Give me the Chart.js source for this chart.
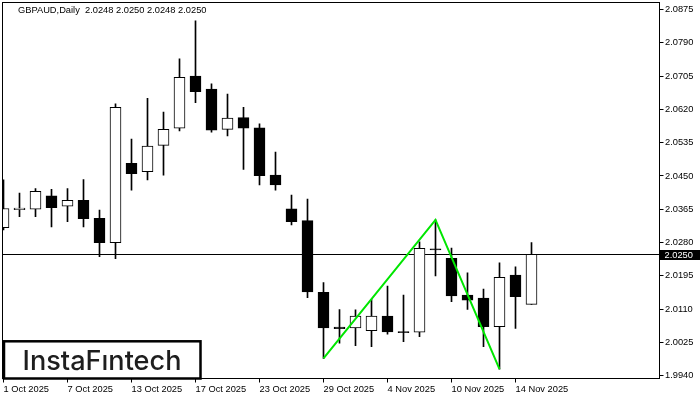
<html>
<head>
<meta charset="UTF-8" />
<title>GBPAUD Daily</title>
<style>
  html, body { margin: 0; padding: 0; background: #fff; }
  #chart { display: block; }
</style>
</head>
<body>
<canvas id="chart" width="700" height="400"></canvas>
<script src="https://cdn.jsdelivr.net/npm/chart.js"></script>
<script>
// trading days, last 8 are empty space on the right
const dates = [
  '1 Oct 2025', '2 Oct 2025', '3 Oct 2025', '6 Oct 2025', '7 Oct 2025', '8 Oct 2025', '9 Oct 2025', '10 Oct 2025',
  '13 Oct 2025', '14 Oct 2025', '15 Oct 2025', '16 Oct 2025', '17 Oct 2025', '20 Oct 2025', '21 Oct 2025', '22 Oct 2025',
  '23 Oct 2025', '24 Oct 2025', '27 Oct 2025', '28 Oct 2025', '29 Oct 2025', '30 Oct 2025', '31 Oct 2025', '3 Nov 2025',
  '4 Nov 2025', '5 Nov 2025', '6 Nov 2025', '7 Nov 2025', '10 Nov 2025', '11 Nov 2025', '12 Nov 2025', '13 Nov 2025',
  '14 Nov 2025', '17 Nov 2025',
  '18 Nov 2025', '19 Nov 2025', '20 Nov 2025', '21 Nov 2025', '24 Nov 2025', '25 Nov 2025', '26 Nov 2025', '27 Nov 2025'
];

const opens  = [2.0318, 2.0364, 2.0365, 2.0399, 2.0373, 2.0388, 2.0342, 2.0280,
                2.0482, 2.0461, 2.0528, 2.0572, 2.0705, 2.0672, 2.0569, 2.0599,
                2.0573, 2.0452, 2.0366, 2.0336, 2.0153, 2.0064, 2.0062, 2.0055,
                2.0092, 2.0053, 2.0051, 2.0264, 2.0240, 2.0146, 2.0138, 2.0065,
                2.0197, 2.0122];
const highs  = [2.0440, 2.0406, 2.0418, 2.0416, 2.0418, 2.0441, 2.0363, 2.0634,
                2.0544, 2.0648, 2.0613, 2.0749, 2.0846, 2.0685, 2.0659, 2.0625,
                2.0583, 2.0511, 2.0401, 2.0391, 2.0178, 2.0109, 2.0108, 2.0135,
                2.0169, 2.0146, 2.0282, 2.0338, 2.0266, 2.0203, 2.0161, 2.0228,
                2.0218, 2.0280];
const lows   = [2.0312, 2.0346, 2.0346, 2.0320, 2.0333, 2.0320, 2.0244, 2.0239,
                2.0414, 2.0440, 2.0452, 2.0565, 2.0637, 2.0562, 2.0552, 2.0467,
                2.0427, 2.0414, 2.0325, 2.0139, 1.9984, 2.0023, 2.0017, 2.0014,
                2.0046, 2.0027, 2.0040, 2.0195, 2.0129, 2.0109, 2.0014, 1.9957,
                2.0061, 2.0122];
const closes = [2.0367, 2.0368, 2.0411, 2.0369, 2.0388, 2.0341, 2.0280, 2.0625,
                2.0456, 2.0526, 2.0569, 2.0702, 2.0665, 2.0567, 2.0598, 2.0572,
                2.0451, 2.0427, 2.0333, 2.0154, 2.0062, 2.0060, 2.0092, 2.0092,
                2.0052, 2.0050, 2.0265, 2.0261, 2.0144, 2.0133, 2.0065, 2.0191,
                2.0142, 2.0250];

// double bottom pattern line
const patternDates  = ['29 Oct 2025', '7 Nov 2025', '13 Nov 2025'];
const patternValues = [1.9984, 2.0338, 1.9957];

const priceTicks = [1.9940, 2.0025, 2.0110, 2.0195, 2.0280, 2.0365, 2.0450, 2.0535, 2.0620, 2.0705, 2.0790, 2.0875];
const dateTicks = ['1 Oct 2025', '7 Oct 2025', '13 Oct 2025', '17 Oct 2025', '23 Oct 2025',
                   '29 Oct 2025', '4 Nov 2025', '10 Nov 2025', '14 Nov 2025'];
const lastPrice = 2.0250;
const headerText = 'GBPAUD,Daily  2.0248 2.0250 2.0248 2.0250';
const logoText = 'InstaF\u0131ntech';

const FONT = 'Liberation Sans';
const tickFont = { family: FONT, size: 9.3 };

const overlay = {
  id: 'overlay',
  beforeDatasetsDraw(chart) {
    const { ctx, chartArea: a, scales: { y } } = chart;
    const py = Math.round(y.getPixelForValue(lastPrice)) + 0.5;
    ctx.save();
    ctx.strokeStyle = '#000';
    ctx.lineWidth = 1;
    ctx.beginPath();
    ctx.moveTo(a.left - 1, py);
    ctx.lineTo(a.right, py);
    ctx.stroke();
    ctx.restore();
  },
  afterDraw(chart) {
    const { ctx, chartArea: a, scales: { y } } = chart;
    ctx.save();
    // frame
    ctx.strokeStyle = '#000';
    ctx.lineWidth = 1;
    ctx.strokeRect(a.left - 1, a.top, a.right - a.left + 1, a.bottom - a.top);

    // last price tag
    const py = Math.round(y.getPixelForValue(lastPrice)) + 0.5;
    ctx.fillStyle = '#000';
    ctx.fillRect(a.right + 0.5, py - 4.5, 700 - a.right, 10);
    ctx.fillStyle = '#fff';
    ctx.font = '9.3px "' + FONT + '"';
    ctx.textBaseline = 'middle';
    ctx.textAlign = 'left';
    ctx.fillText(lastPrice.toFixed(4), a.right + 5, py + 0.5);

    // header
    ctx.fillStyle = '#000';
    ctx.fillText(headerText, 18, 10.5);

    // logo
    ctx.fillStyle = '#fff';
    ctx.fillRect(3, 340, 198, 38);
    ctx.strokeStyle = '#000';
    ctx.lineWidth = 2.5;
    ctx.strokeRect(4, 341.3, 196.5, 37.2);
    ctx.fillStyle = '#1e1e1e';
    ctx.font = '500 27px Inter';
    ctx.textBaseline = 'alphabetic';
    const w = ctx.measureText(logoText).width;
    ctx.translate(22.5, 369.5);
    ctx.scale(159 / w, 1);
    ctx.fillText(logoText, 0, 0);
    ctx.restore();
  }
};

new Chart(document.getElementById('chart'), {
  type: 'bar',
  data: {
    labels: dates,
    datasets: [
      {
        type: 'line',
        data: patternDates.map((d, i) => ({ x: d, y: patternValues[i] })),
        borderColor: '#00e600',
        borderWidth: 2,
        pointRadius: 0,
        tension: 0,
        spanGaps: true,
        order: 0,
        clip: 1
      },
      {
        data: opens.map((o, i) => [o, closes[i]]),
        backgroundColor: opens.map((o, i) => closes[i] >= o ? '#ffffff' : '#000000'),
        borderColor: '#000',
        borderWidth: 1,
        borderSkipped: false,
        barThickness: 11,
        grouped: false,
        order: 1,
        clip: 1
      },
      {
        data: lows.map((l, i) => [l, highs[i]]),
        backgroundColor: '#000',
        borderWidth: 0,
        barThickness: 1,
        grouped: false,
        order: 2,
        clip: 1
      }
    ]
  },
  options: {
    responsive: false,
    animation: false,
    events: [],
    layout: { padding: { left: 3.5, top: 2.5, right: 0, bottom: 0 } },
    plugins: { legend: { display: false }, tooltip: { enabled: false } },
    scales: {
      x: {
        type: 'category',
        offset: false,
        grid: {
          offset: false,
          drawOnChartArea: false,
          tickLength: 4,
          color: c => dateTicks.includes(dates[c.index]) ? '#000' : 'rgba(0,0,0,0)'
        },
        border: { display: false },
        ticks: {
          autoSkip: false,
          maxRotation: 0,
          align: 'start',
          padding: 1,
          color: '#000',
          font: tickFont,
          callback: (v, i) => dateTicks.includes(dates[i]) ? dates[i] : ''
        },
        afterFit: s => { s.height = 21.5; s.paddingLeft = 0; s.paddingRight = 0; }
      },
      y: {
        position: 'right',
        min: 1.99329,
        max: 2.08929,
        grid: { drawOnChartArea: false, tickLength: 4, color: '#000' },
        border: { display: false },
        afterBuildTicks: s => { s.ticks = priceTicks.map(v => ({ value: v })); },
        ticks: {
          padding: 1.5,
          color: '#000',
          font: tickFont,
          callback: v => Number(v).toFixed(4)
        },
        afterFit: s => { s.width = 40.5; s.paddingTop = 0; s.paddingBottom = 0; }
      }
    }
  },
  plugins: [overlay]
});
</script>
</body>
</html>
